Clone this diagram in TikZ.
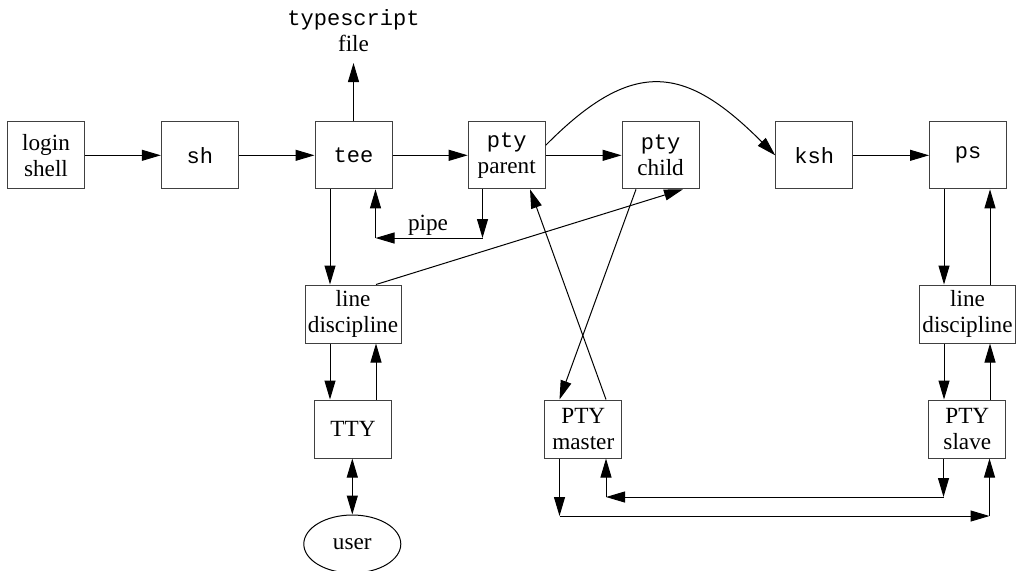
\documentclass[tikz,border=0pt]{standalone}
\usepackage{fontspec}
\setmainfont{Liberation Serif}
\setmonofont[Scale=0.95]{Liberation Mono}
\usetikzlibrary{arrows.meta,shapes.geometric}
\begin{document}
\begin{tikzpicture}[x=0.5pt,y=-0.5pt,
  line width=0.5pt,
  every node/.style={font=\fontsize{11.6}{13}\selectfont},
  box/.style={draw=black!75,align=center,inner sep=0pt,minimum width=38.5pt,minimum height=33.5pt},
  lbox/.style={draw=black!75,align=center,inner sep=0pt,minimum width=38.5pt,minimum height=29pt},
  ldbox/.style={draw=black!75,align=center,inner sep=0pt,minimum width=48pt,minimum height=29pt},
  arr/.style={-{Triangle[length=9.5pt,width=5.5pt]}},
  darr/.style={{Triangle[length=9.5pt,width=5.5pt]}-{Triangle[length=9.5pt,width=5.5pt]}}]
\useasboundingbox (0,0) rectangle (1021,570);
% top row
\node[box] (login) at (46,155.3) {login\\shell};
\node[box] (sh) at (199.8,155.3) {\texttt{sh}};
\node[box] (tee) at (353.5,155.3) {\texttt{tee}};
\node[box] (pp) at (506.7,155.3) {\texttt{pty}\\parent};
\node[box] (pc) at (660.6,155.3) {\texttt{pty}\\child};
\node[box] (ksh) at (814.2,155.3) {\texttt{ksh}};
\node[box] (ps) at (968,155.3) {\texttt{ps}};
\node[align=center,inner sep=0pt] (ts) at (353.5,31) {\texttt{typescript}\\file};
% lower
\node[ldbox] (ldl) at (353,314) {line\\discipline};
\node[lbox] (tty) at (353,429) {TTY};
\node[draw=black,ellipse,inner sep=0pt,minimum width=48.5pt,minimum height=29pt] (user) at (352.3,544) {user};
\node[lbox] (master) at (583.3,429) {PTY\\master};
\node[ldbox] (ldr) at (967.5,314) {line\\discipline};
\node[lbox] (slave) at (967.3,429) {PTY\\slave};
% corner coordinates
\coordinate (pa) at (482.5,238);
\coordinate (pb) at (375.5,238);
\coordinate (ma) at (559.5,516);
\coordinate (mb) at (989.5,516);
\coordinate (sa) at (943.5,497);
\coordinate (sb) at (606,497);
% top row arrows
\draw[arr] (login) -- (sh);
\draw[arr] (sh) -- (tee);
\draw[arr] (tee) -- (pp);
\draw[arr] (pp) -- (pc);
\draw[arr] (ksh) -- (ps);
\draw[arr] (tee.north) -- (ts.south |- 0,63);
\draw[arr] ([yshift=5pt]pp.east) .. controls (634,56) and (686,66) .. (ksh.west);
% pipe
\draw[arr] (pp.south -| pa) -- (pa);
\draw[arr] (pa) -- (pb);
\draw[arr] (pb) -- (tee.south -| pb);
\node[inner sep=0pt] (pipe) at (428,225) {pipe};
% left column
\draw[arr] (tee.south -| 330,0) -- (ldl.north -| 330,0);
\draw[arr] (ldl.south -| 330,0) -- (tty.north -| 330,0);
\draw[arr] (tty.north -| 376,0) -- (ldl.south -| 376,0);
\draw[darr] (tty.south -| 352.3,0) -- (user.north);
\draw[arr] (ldl.north -| 376,0) -- (pc.south -| 683,0);
% master crossings
\draw[arr] (master.north -| 606,0) -- (pp.south -| 530,0);
\draw[arr] (pc.south -| 636,0) -- (master.north -| 559.5,0);
% right column
\draw[arr] (ps.south -| 944,0) -- (ldr.north -| 944,0);
\draw[arr] (ldr.north -| 990,0) -- (ps.south -| 990,0);
\draw[arr] (ldr.south -| 944,0) -- (slave.north -| 944,0);
\draw[arr] (slave.north -| 990,0) -- (ldr.south -| 990,0);
% bottom loops
\draw[arr] (master.south -| ma) -- (ma);
\draw[arr] (ma) -- (mb);
\draw[arr] (mb) -- (slave.south -| mb);
\draw[arr] (slave.south -| sa) -- (sa);
\draw[arr] (sa) -- (sb);
\draw[arr] (sb) -- (master.south -| sb);
\end{tikzpicture}
\end{document}
